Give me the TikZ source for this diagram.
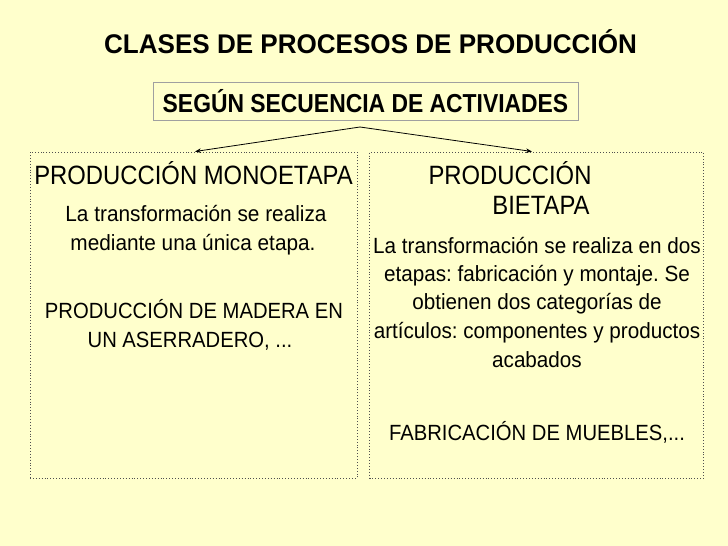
\documentclass[tikz,border=0pt]{standalone}
\usepackage{fontspec}
\usepackage{graphicx}
\setmainfont{Liberation Sans}
\usetikzlibrary{arrows.meta}
\definecolor{bg}{HTML}{FFFFCC}
\definecolor{frame}{HTML}{505050}
\definecolor{subframe}{HTML}{A0A0A0}
\newcommand{\hsq}[2]{\scalebox{#1}[1]{#2}}
\frenchspacing
\tikzset{
  txt/.style={anchor=base, inner sep=0pt},
  head/.style={txt, font=\fontsize{26.5}{30}\selectfont},
  body/.style={txt, font=\fontsize{22}{26}\selectfont},
  panel/.style={draw=frame, dotted, line width=0.9pt, fill=bg, inner sep=0pt},
  conn/.style={line width=0.8pt, -{Stealth[length=6pt,width=4.5pt]}}
}
\begin{document}
\begin{tikzpicture}[x=1pt,y=-1pt]
\fill[bg] (0,0) rectangle (728,546);
\useasboundingbox (0,0) rectangle (728,546);

\node[txt, font=\bfseries\fontsize{27}{30}\selectfont] (title) at (370.5,53) {\hsq{0.965}{CLASES DE PROCESOS DE PRODUCCIÓN}};

\node[draw=subframe, line width=0.8pt, fill=bg, minimum width=425pt, minimum height=38pt, inner sep=0pt] (sub) at (365.5,101) {};
\node[txt, font=\bfseries\fontsize{26}{30}\selectfont] (subt) at (365.5,112.5) {\hsq{0.88}{SEGÚN SECUENCIA DE ACTIVIADES}};

\node[panel, minimum width=327pt, minimum height=326pt] (lbox) at (193.5,315) {};
\node[panel, minimum width=334pt, minimum height=326pt] (rbox) at (536.5,315) {};

\coordinate (apex) at (360,127);
\coordinate (lt) at (195,151.5);
\coordinate (rt) at (532,151.5);
\draw[conn] (apex) -- (lt);
\draw[conn] (apex) -- (rt);

% left panel text
\node[head] (lh) at (193.5,184) {\hsq{0.9}{PRODUCCIÓN MONOETAPA}};
\node[body] (l1) at (196,221) {\hsq{0.945}{La transformación se realiza}};
\node[body] (l2) at (193,250) {\hsq{0.945}{mediante una única etapa.}};
\node[body] (l3) at (194,318.5) {\hsq{0.92}{PRODUCCIÓN DE MADERA EN}};
\node[body] (l4) at (190,347.5) {\hsq{0.92}{UN ASERRADERO, ...}};

% right panel text
\node[head] (rh1) at (510,184) {\hsq{0.9}{PRODUCCIÓN}};
\node[head] (rh2) at (541,214.5) {\hsq{0.9}{BIETAPA}};
\node[body] (r1) at (537,253) {\hsq{0.94}{La transformación se realiza en dos}};
\node[body] (r2) at (537,281) {\hsq{0.94}{etapas: fabricación y montaje. Se}};
\node[body] (r3) at (537,309) {\hsq{0.94}{obtienen dos categorías de}};
\node[body] (r4) at (537,338) {\hsq{0.94}{artículos: componentes y productos}};
\node[body] (r5) at (537,367) {\hsq{0.94}{acabados}};
\node[body] (r6) at (537,440) {\hsq{0.92}{FABRICACIÓN DE MUEBLES,...}};
\end{tikzpicture}
\end{document}
